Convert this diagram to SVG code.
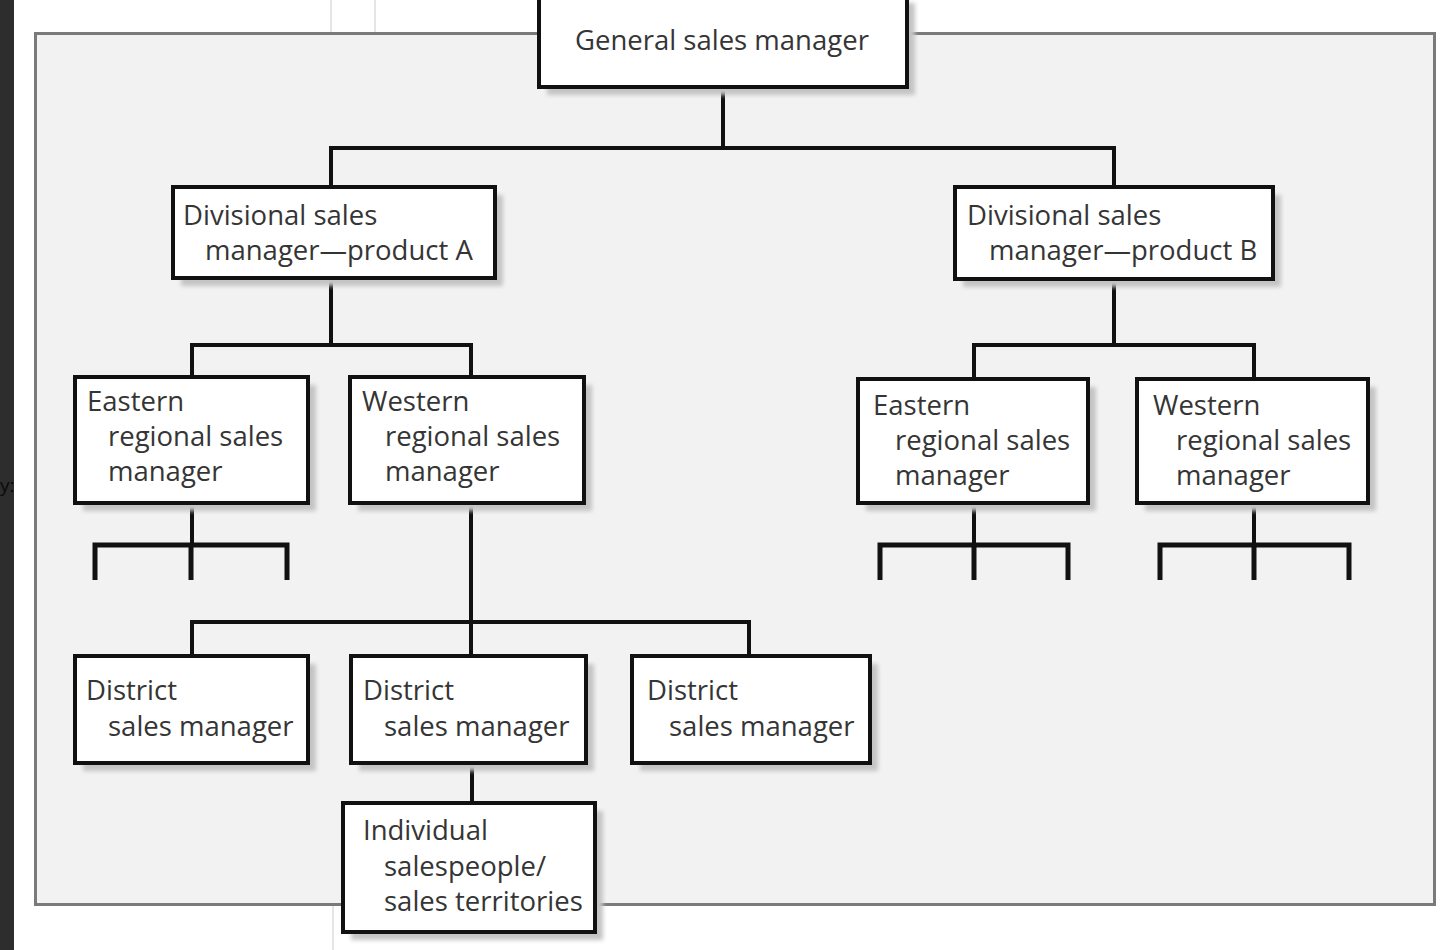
<svg xmlns="http://www.w3.org/2000/svg" width="1456" height="950" viewBox="0 0 1456 950">
<defs>
<filter id="sh" x="-10%" y="-10%" width="130%" height="130%"><feGaussianBlur stdDeviation="2"/></filter>
<style>
.bg{fill:#ffffff}
.panel{fill:#f2f2f2;stroke:#7a7a7a;stroke-width:3}
.box{fill:#ffffff;stroke:#111;stroke-width:4}
.shadow{fill:#c4c4c4;filter:url(#sh)}
.t{font-family:"Open Sans","Noto Sans","Liberation Sans",sans-serif;font-size:27.5px;fill:#353535}
.c{fill:none;stroke:#111;stroke-width:4;stroke-linecap:butt;stroke-linejoin:miter}
.leg{fill:none;stroke:#111;stroke-width:5}
.faint{stroke:#dcdcdc;stroke-width:1.5}
</style>
</defs>
<rect class="bg" x="0" y="0" width="1456" height="950"/>
<rect x="0" y="0" width="14" height="950" fill="#2d2d2d"/>
<text x="0" y="492" font-family="Open Sans, sans-serif" font-size="19" fill="#0a0a0a">y:</text>
<line class="faint" x1="331" y1="0" x2="331" y2="32"/>
<line class="faint" x1="375" y1="0" x2="375" y2="32"/>
<line class="faint" x1="333" y1="906" x2="333" y2="950"/>
<rect class="panel" x="35.5" y="33.5" width="1399" height="871"/>

<g id="connectors">
<path class="c" d="M723 87 V148 M331 187 V148 H1114 V187"/>
<path class="c" d="M331 278 V345 M192 377 V345 H471 V377"/>
<path class="c" d="M1114 279 V345 M974 379 V345 H1254 V379"/>
<path class="c" d="M192 503 V545"/>
<path class="leg" d="M95 580 V545 H287 V580 M191 545 V580"/>
<path class="c" d="M974 503 V545"/>
<path class="leg" d="M880 580 V545 H1068 V580 M974 545 V580"/>
<path class="c" d="M1254 503 V545"/>
<path class="leg" d="M1160 580 V545 H1349 V580 M1254 545 V580"/>
<path class="c" d="M471 503 V656 M192 656 V622 H749 V656"/>
<path class="c" d="M472 763 V803"/>
</g>

<g id="general">
<rect class="shadow" x="547" y="3" width="368" height="92"/>
<rect class="box" x="539" y="-5" width="368" height="92"/>
<text class="t" x="575" y="50">General sales manager</text>
</g>

<g id="div-a">
<rect class="shadow" x="181" y="195" width="322" height="91"/>
<rect class="box" x="173" y="187" width="322" height="91"/>
<text class="t" x="183" y="225">Divisional sales</text>
<text class="t" x="205" y="260">manager—product A</text>
</g>

<g id="div-b">
<rect class="shadow" x="963" y="195" width="318" height="92"/>
<rect class="box" x="955" y="187" width="318" height="92"/>
<text class="t" x="967" y="225">Divisional sales</text>
<text class="t" x="989" y="260">manager—product B</text>
</g>

<g id="eastern-a">
<rect class="shadow" x="83" y="385" width="233" height="126"/>
<rect class="box" x="75" y="377" width="233" height="126"/>
<text class="t" x="87" y="411">Eastern</text>
<text class="t" x="108" y="446">regional sales</text>
<text class="t" x="108" y="481">manager</text>
</g>

<g id="western-a">
<rect class="shadow" x="358" y="385" width="234" height="126"/>
<rect class="box" x="350" y="377" width="234" height="126"/>
<text class="t" x="362" y="411">Western</text>
<text class="t" x="385" y="446">regional sales</text>
<text class="t" x="385" y="481">manager</text>
</g>

<g id="eastern-b">
<rect class="shadow" x="866" y="387" width="230" height="124"/>
<rect class="box" x="858" y="379" width="230" height="124"/>
<text class="t" x="873" y="415">Eastern</text>
<text class="t" x="895" y="450">regional sales</text>
<text class="t" x="895" y="485">manager</text>
</g>

<g id="western-b">
<rect class="shadow" x="1145" y="387" width="231" height="124"/>
<rect class="box" x="1137" y="379" width="231" height="124"/>
<text class="t" x="1153" y="415">Western</text>
<text class="t" x="1176" y="450">regional sales</text>
<text class="t" x="1176" y="485">manager</text>
</g>

<g id="district-1">
<rect class="shadow" x="83" y="664" width="233" height="107"/>
<rect class="box" x="75" y="656" width="233" height="107"/>
<text class="t" x="86" y="700">District</text>
<text class="t" x="108" y="736">sales manager</text>
</g>

<g id="district-2">
<rect class="shadow" x="359" y="664" width="235" height="107"/>
<rect class="box" x="351" y="656" width="235" height="107"/>
<text class="t" x="363" y="700">District</text>
<text class="t" x="384" y="736">sales manager</text>
</g>

<g id="district-3">
<rect class="shadow" x="640" y="664" width="238" height="107"/>
<rect class="box" x="632" y="656" width="238" height="107"/>
<text class="t" x="647" y="700">District</text>
<text class="t" x="669" y="736">sales manager</text>
</g>

<g id="individual">
<rect class="shadow" x="351" y="811" width="252" height="129"/>
<rect class="box" x="343" y="803" width="252" height="129"/>
<text class="t" x="363" y="840">Individual</text>
<text class="t" x="384" y="876">salespeople/</text>
<text class="t" x="384" y="911">sales territories</text>
</g>
</svg>
